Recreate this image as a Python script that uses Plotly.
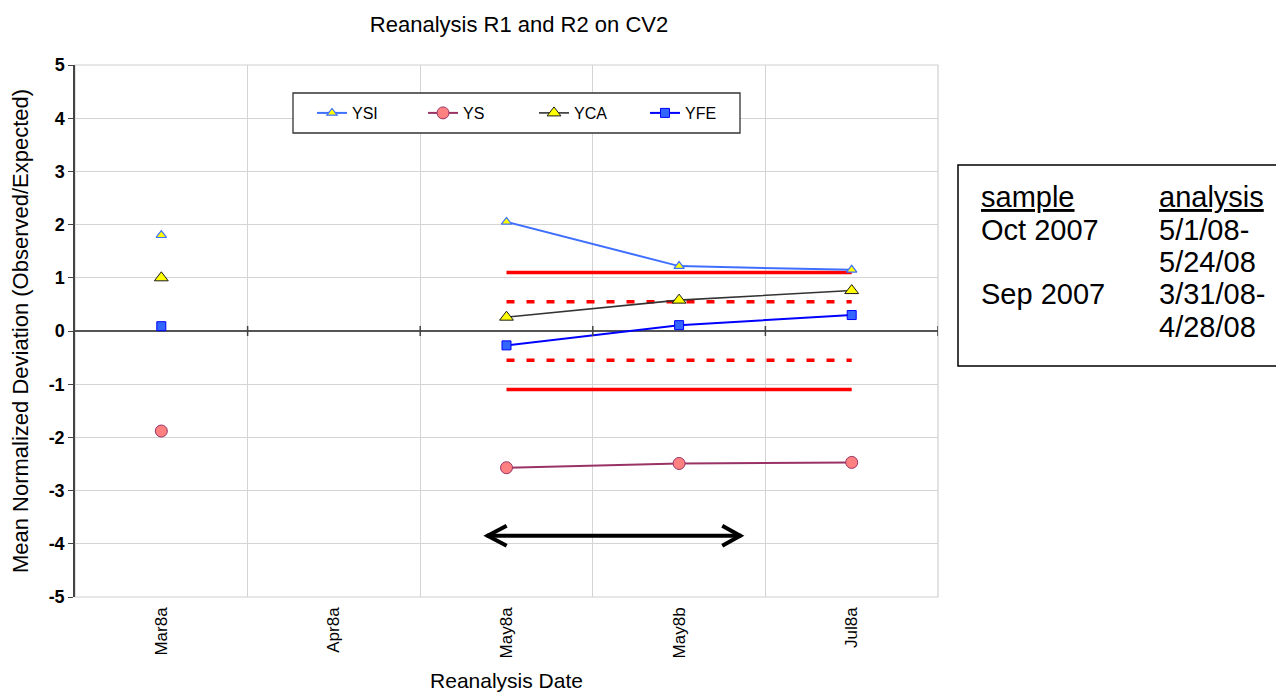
import plotly.graph_objects as go

# ---------------- data ----------------
categories = ["Mar8a", "Apr8a", "May8a", "May8b", "Jul8a"]
ysi = [1.80, None, 2.05, 1.22, 1.15]
ys = [-1.88, None, -2.57, -2.49, -2.47]
yca = [1.00, None, 0.26, 0.58, 0.76]
yfe = [0.09, None, -0.27, 0.11, 0.30]

limit_cats = ["May8a", "Jul8a"]
limit_solid = 1.1
limit_dotted = 0.55

y_ticks = [-5, -4, -3, -2, -1, 0, 1, 2, 3, 4, 5]
y_tick_labels = ["-5", "-4", "-3", "-2", "-1", "0", "1", "2", "3", "4", "5"]

box_rows = [
    ("<span style='text-decoration:underline'>sample</span>",
     "<span style='text-decoration:underline'>analysis</span>"),
    ("Oct 2007", "5/1/08-"),
    ("", "5/24/08"),
    ("Sep 2007", "3/31/08-"),
    ("", "4/28/08"),
]

# ---------------- layout geometry (page pixels; page body has an 8px margin) ----------------
OFF = 8
W, H = 1284 - OFF, 692 - OFF
L, R, T, B = 75 - OFF, 938 - OFF, 65 - OFF, 597 - OFF
FONT = "Liberation Sans, Arial, sans-serif"


def px_x(px):
    return (px - OFF - L) / (R - L)


def px_y(py):
    return (B - (py - OFF)) / (B - T)


fig = go.Figure()

# limit lines
for v in (limit_solid, -limit_solid):
    fig.add_trace(go.Scatter(x=limit_cats, y=[v, v], mode="lines",
                             line=dict(color="#ff0000", width=3.5),
                             showlegend=False, hoverinfo="skip"))
for v in (limit_dotted, -limit_dotted):
    fig.add_trace(go.Scatter(x=limit_cats, y=[v, v], mode="lines",
                             line=dict(color="#ff0000", width=3.5, dash="8px,12px"),
                             showlegend=False, hoverinfo="skip"))

fig.add_trace(go.Scatter(
    x=categories, y=ysi, name="YSI", mode="lines+markers",
    line=dict(color="#3f6fff", width=2),
    marker=dict(symbol="triangle-up", size=9, color="#ffff00",
                line=dict(color="#3f6fff", width=1.2))))
fig.add_trace(go.Scatter(
    x=categories, y=ys, name="YS", mode="lines+markers",
    line=dict(color="#993366", width=2),
    marker=dict(symbol="circle", size=12, color="#ff8080",
                line=dict(color="#993366", width=1))))
fig.add_trace(go.Scatter(
    x=categories, y=yca, name="YCA", mode="lines+markers",
    line=dict(color="#333333", width=1.6),
    marker=dict(symbol="triangle-up", size=12, color="#ffff00",
                line=dict(color="#1a1a1a", width=1))))
fig.add_trace(go.Scatter(
    x=categories, y=yfe, name="YFE", mode="lines+markers",
    line=dict(color="#0000ff", width=2),
    marker=dict(symbol="square", size=9, color="#3366ff",
                line=dict(color="#0000ff", width=1))))

shapes = []
# plot-area border
shapes.append(dict(type="rect", xref="paper", yref="paper", x0=0, x1=1, y0=0, y1=1,
                   line=dict(color="#cfcfcf", width=1.2), layer="below"))
# small tick marks on the zero line at category boundaries
for i in range(len(categories)):
    shapes.append(dict(type="line", xref="x", yref="y", x0=i + 0.5, x1=i + 0.5,
                       ysizemode="pixel", yanchor=0, y0=-5, y1=5,
                       line=dict(color="#444444", width=1.5)))
# double arrow
arrow_y = -3.85
arrow_x0, arrow_x1 = 1.885, 3.36
shapes.append(dict(type="line", xref="x", yref="y", x0=arrow_x0, x1=arrow_x1,
                   y0=arrow_y, y1=arrow_y, line=dict(color="black", width=4)))
shapes.append(dict(type="path", xref="x", yref="y", xsizemode="pixel", ysizemode="pixel",
                   xanchor=arrow_x0, yanchor=arrow_y, path="M 20,10 L 1,0 L 20,-10",
                   line=dict(color="black", width=4)))
shapes.append(dict(type="path", xref="x", yref="y", xsizemode="pixel", ysizemode="pixel",
                   xanchor=arrow_x1, yanchor=arrow_y, path="M -19,10 L -1,0 L -19,-10",
                   line=dict(color="black", width=4)))
# legend box
shapes.append(dict(type="rect", xref="paper", yref="paper",
                   x0=px_x(293), x1=px_x(740), y0=px_y(133), y1=px_y(93),
                   fillcolor="white", line=dict(color="#333333", width=1.3), layer="above"))
# text box
shapes.append(dict(type="rect", xref="paper", yref="paper",
                   x0=px_x(958), x1=px_x(1283), y0=px_y(366), y1=px_y(165),
                   fillcolor="white", line=dict(color="black", width=1.5), layer="above"))

annotations = []
row_y = [197, 230, 262, 294, 327]
for (c1, c2), yy in zip(box_rows, row_y):
    for txt, xx in ((c1, 979), (c2, 1157)):
        if txt:
            annotations.append(dict(text=txt, xref="paper", yref="paper",
                                    x=px_x(xx), y=px_y(yy), xanchor="left", yanchor="middle",
                                    showarrow=False, font=dict(family=FONT, size=29, color="black")))

fig.update_layout(
    width=W, height=H,
    margin=dict(l=L, r=W - R, t=T, b=H - B, autoexpand=False),
    paper_bgcolor="white", plot_bgcolor="white",
    font=dict(family=FONT, color="black"),
    title=dict(text="Reanalysis R1 and R2 on CV2", x=px_x(519), xref="paper", xanchor="center",
               y=1 - (24 - OFF) / H, yref="container", yanchor="middle",
               font=dict(family=FONT, size=22, color="black")),
    xaxis=dict(type="category", categoryorder="array", categoryarray=categories,
               range=[-0.5, len(categories) - 0.5], automargin=False,
               tickson="boundaries", ticks="", showgrid=True, gridcolor="#d4d4d4", gridwidth=1,
               tickangle=-90, tickfont=dict(family=FONT, size=17, color="black"),
               ticklabelstandoff=6,
               showline=False, zeroline=False,
               title=dict(text="Reanalysis Date", standoff=22,
                          font=dict(family=FONT, size=21, color="black"))),
    yaxis=dict(range=[-5, 5], tickvals=y_ticks, ticktext=y_tick_labels, automargin=False,
               ticks="outside", ticklen=5, tickcolor="#444444",
               tickfont=dict(family=FONT, size=18, color="black", weight="bold"),
               showgrid=True, gridcolor="#d4d4d4", gridwidth=1,
               zeroline=True, zerolinecolor="#555555", zerolinewidth=1.5,
               showline=True, linecolor="#444444", linewidth=1.5,
               title=dict(text="Mean Normalized Deviation (Observed/Expected)", standoff=14,
                          font=dict(family=FONT, size=22, color="black"))),
    legend=dict(orientation="h", x=px_x(312), xanchor="left", y=px_y(113), yanchor="middle",
                bgcolor="rgba(0,0,0,0)", borderwidth=0, entrywidth=66, entrywidthmode="pixels",
                font=dict(family=FONT, size=16, color="black")),
    shapes=shapes,
    annotations=annotations,
)

fig.write_html("out.html")
